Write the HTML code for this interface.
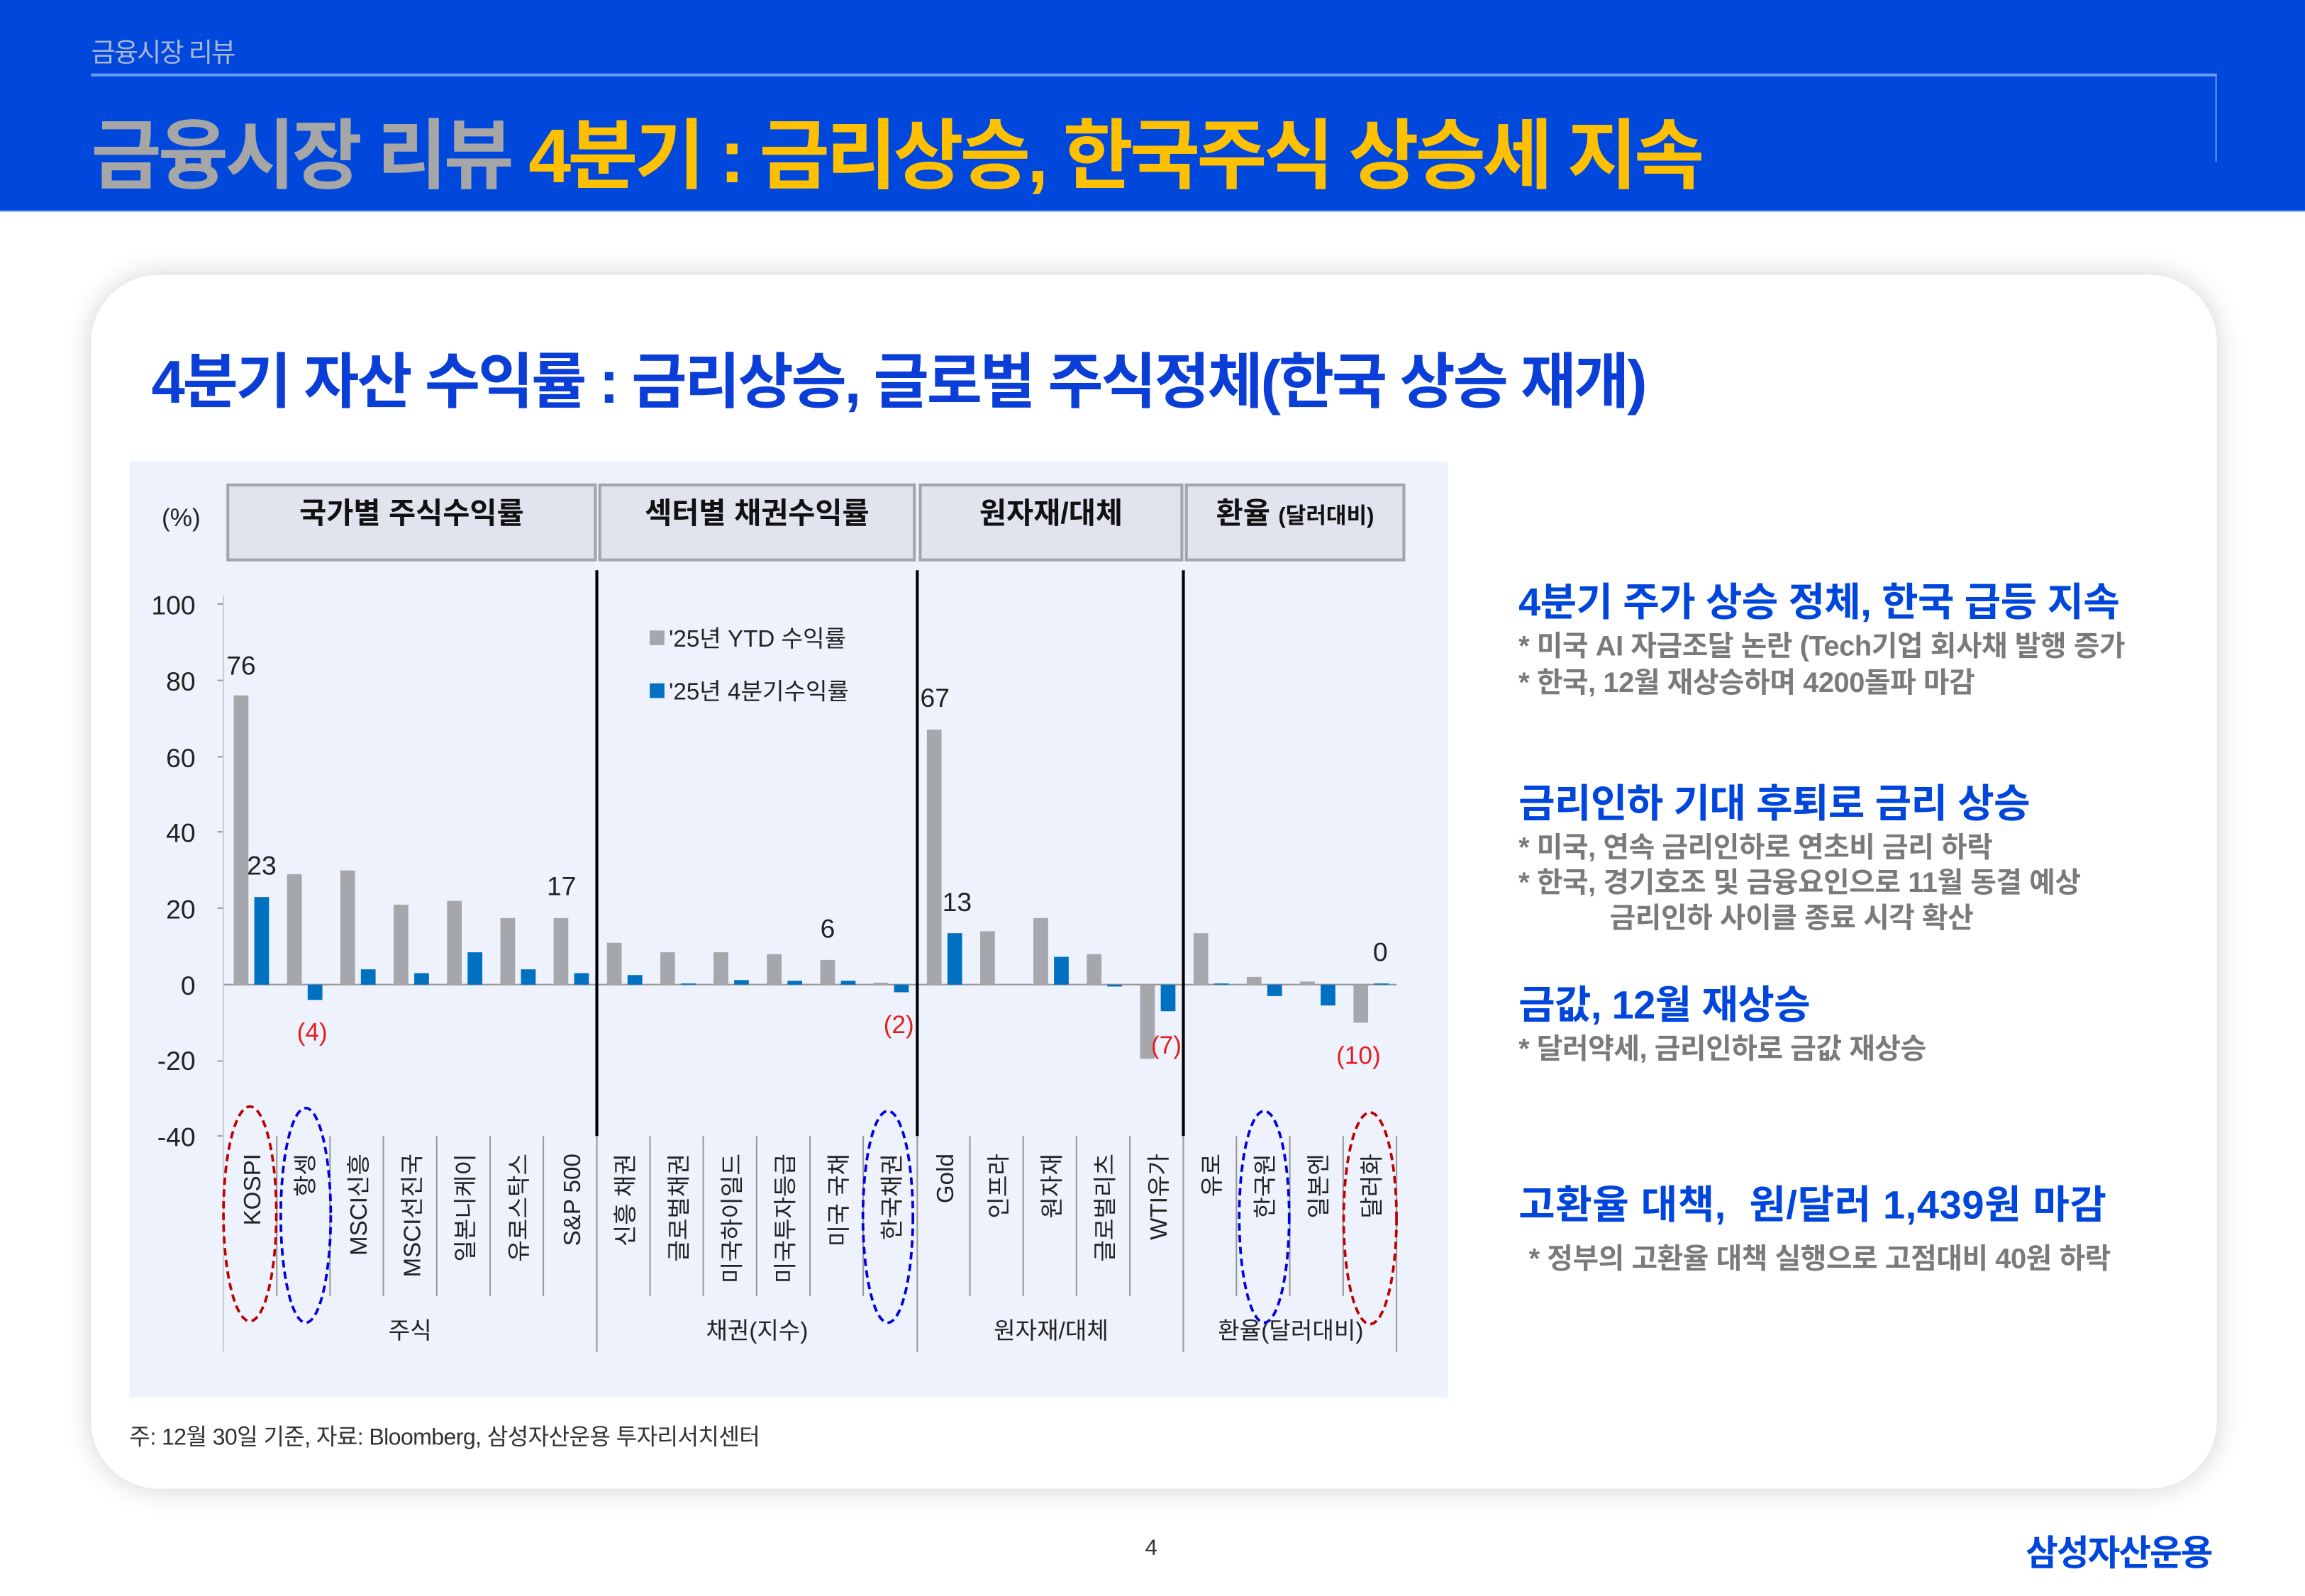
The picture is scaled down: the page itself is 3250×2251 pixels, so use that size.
<!DOCTYPE html>
<html><head><meta charset="utf-8">
<style>
html,body{margin:0;padding:0;background:#fff;}
body{width:3250px;height:2250px;overflow:hidden;}
#s{position:absolute;left:0;top:0;width:1568px;height:1086px;transform:scale(2.0727);transform-origin:0 0;font-family:"Liberation Sans","Noto Sans CJK KR",sans-serif;}
.a{position:absolute;white-space:nowrap;}
.h{color:#0046dc;font-weight:bold;font-size:27px;letter-spacing:-0.3px;}
.g{color:#7a7a7a;font-size:19.2px;font-weight:bold;letter-spacing:-0.2px;}
</style></head><body>
<div id="s">
<div class="a" style="left:0;top:0;width:1568px;height:143px;background:#0048dc;border-bottom:1px solid #5b8cf0;"></div>
<div class="a" style="left:62px;top:22px;color:#a8b4d8;font-size:18px;letter-spacing:-1px;">금융시장 리뷰</div>
<div class="a" style="left:62px;top:50px;width:1446px;height:2px;background:#6a98f5;"></div>
<div class="a" style="left:1507px;top:50px;width:1px;height:60px;background:#6a98f5;"></div>
<div class="a" style="left:62px;top:64px;font-size:52px;font-weight:bold;letter-spacing:-2.3px;"><span style="color:#a6a6a6">금융시장 리뷰</span> <span style="color:#ffc000">4분기 : 금리상승, 한국주식 상승세 지속</span></div>

<div class="a" style="left:62px;top:187px;width:1446px;height:826px;background:#fff;border-radius:46px;box-shadow:0 0 18px rgba(0,0,0,0.18);"></div>
<div class="a" style="left:103px;top:226px;font-size:41px;font-weight:bold;color:#0a3ed6;letter-spacing:-1.5px;">4분기 자산 수익률 : 금리상승, 글로벌 주식정체(한국 상승 재개)</div>

<svg class="a" style="left:0;top:0" width="1568" height="1086" font-family="Liberation Sans, Noto Sans CJK KR, sans-serif">
<rect x="88" y="314" width="897" height="637" fill="#eef2fc"/>
<g fill="#e1e4ef" stroke="#a2a5b0" stroke-width="2">
<rect x="155" y="330" width="250" height="51"/><rect x="408" y="330" width="214" height="51"/>
<rect x="626" y="330" width="178" height="51"/><rect x="807" y="330" width="148" height="51"/></g>
<g font-size="20" font-weight="bold" fill="#111" text-anchor="middle">
<text x="280" y="356">국가별 주식수익률</text><text x="515" y="356">섹터별 채권수익률</text>
<text x="715" y="356">원자재/대체</text><text x="881" y="356">환율 <tspan font-size="15">(달러대비)</tspan></text></g>
<text x="110" y="358" font-size="17" fill="#222">(%)</text>
<g font-size="18" fill="#222" text-anchor="end">
<text x="133" y="418">100</text><text x="133" y="470">80</text><text x="133" y="522">60</text><text x="133" y="573">40</text><text x="133" y="625">20</text><text x="133" y="677">0</text><text x="133" y="728">-20</text><text x="133" y="780">-40</text></g>
<g stroke="#999" stroke-width="1">
<line x1="148" y1="411" x2="152" y2="411"/><line x1="148" y1="463" x2="152" y2="463"/><line x1="148" y1="515" x2="152" y2="515"/><line x1="148" y1="566" x2="152" y2="566"/><line x1="148" y1="618" x2="152" y2="618"/><line x1="148" y1="722" x2="152" y2="722"/><line x1="148" y1="773" x2="152" y2="773"/>
<line x1="152" y1="670" x2="950" y2="670" stroke="#999"/>
<line x1="152" y1="405" x2="152" y2="920" stroke="#ccc"/>
<line x1="950" y1="773" x2="950" y2="920"/>
<line x1="188.3" y1="773" x2="188.3" y2="882"/><line x1="224.5" y1="773" x2="224.5" y2="882"/><line x1="260.8" y1="773" x2="260.8" y2="882"/><line x1="297.1" y1="773" x2="297.1" y2="882"/><line x1="333.4" y1="773" x2="333.4" y2="882"/><line x1="369.6" y1="773" x2="369.6" y2="882"/>
<line x1="442.2" y1="773" x2="442.2" y2="882"/><line x1="478.4" y1="773" x2="478.4" y2="882"/><line x1="514.7" y1="773" x2="514.7" y2="882"/><line x1="551" y1="773" x2="551" y2="882"/><line x1="587.2" y1="773" x2="587.2" y2="882"/>
<line x1="659.8" y1="773" x2="659.8" y2="882"/><line x1="696" y1="773" x2="696" y2="882"/><line x1="732.3" y1="773" x2="732.3" y2="882"/><line x1="768.6" y1="773" x2="768.6" y2="882"/>
<line x1="841.1" y1="773" x2="841.1" y2="882"/><line x1="877.4" y1="773" x2="877.4" y2="882"/><line x1="913.7" y1="773" x2="913.7" y2="882"/>
<line x1="406" y1="773" x2="406" y2="920"/><line x1="624" y1="773" x2="624" y2="920"/><line x1="805" y1="773" x2="805" y2="920"/>
</g>
<g stroke="#000" stroke-width="2"><line x1="406" y1="388" x2="406" y2="773"/><line x1="624" y1="388" x2="624" y2="773"/><line x1="805" y1="388" x2="805" y2="773"/></g>
<g fill="#a5a7ad">
<rect x="159" y="473.2" width="10" height="196.8"/><rect x="195.3" y="594.9" width="10" height="75.1"/><rect x="231.5" y="592.3" width="10" height="77.7"/><rect x="267.8" y="615.6" width="10" height="54.4"/><rect x="304.1" y="613" width="10" height="57"/><rect x="340.4" y="624.7" width="10" height="45.3"/><rect x="376.6" y="624.7" width="10" height="45.3"/>
<rect x="412.9" y="641.5" width="10" height="28.5"/><rect x="449.2" y="648" width="10" height="22"/><rect x="485.4" y="648" width="10" height="22"/><rect x="521.7" y="649.3" width="10" height="20.7"/><rect x="558" y="653.2" width="10" height="16.8"/><rect x="594.2" y="668.7" width="10" height="1.3"/>
<rect x="630.5" y="496.5" width="10" height="173.5"/><rect x="666.8" y="633.7" width="10" height="36.3"/><rect x="703" y="624.7" width="10" height="45.3"/><rect x="739.3" y="649.3" width="10" height="20.7"/><rect x="775.6" y="670" width="10" height="50.5"/>
<rect x="811.9" y="635" width="10" height="35"/><rect x="848.1" y="664.8" width="10" height="5.2"/><rect x="884.4" y="667.9" width="10" height="2.1"/><rect x="920.7" y="670" width="10" height="25.9"/>
</g>
<g fill="#0070c0">
<rect x="173" y="610.4" width="10" height="59.6"/><rect x="209.3" y="670" width="10" height="10.4"/><rect x="245.5" y="659.6" width="10" height="10.4"/><rect x="281.8" y="662.2" width="10" height="7.8"/><rect x="318.1" y="648" width="10" height="22"/><rect x="354.4" y="659.6" width="10" height="10.4"/><rect x="390.6" y="662.2" width="10" height="7.8"/>
<rect x="426.9" y="663.5" width="10" height="6.5"/><rect x="463.2" y="669.2" width="10" height="0.8"/><rect x="499.4" y="666.9" width="10" height="3.1"/><rect x="535.7" y="667.4" width="10" height="2.6"/><rect x="572" y="667.4" width="10" height="2.6"/><rect x="608.2" y="670" width="10" height="5.2"/>
<rect x="644.5" y="635" width="10" height="35"/><rect x="717" y="651.1" width="10" height="18.9"/><rect x="753.3" y="670" width="10" height="1.3"/><rect x="789.6" y="670" width="10" height="18.1"/>
<rect x="825.9" y="669.2" width="10" height="0.8"/><rect x="862.1" y="670" width="10" height="7.8"/><rect x="898.4" y="670" width="10" height="14.2"/><rect x="934.7" y="669.2" width="10" height="0.8"/>
</g>
<g font-size="18" fill="#222">
<text x="154" y="459">76</text><text x="168" y="595">23</text><text x="372" y="609">17</text><text x="558" y="638">6</text><text x="626" y="481">67</text><text x="641" y="620">13</text><text x="934" y="654">0</text></g>
<g font-size="17" fill="#e02020">
<text x="202" y="708">(4)</text><text x="601" y="703">(2)</text><text x="783" y="717">(7)</text><text x="909" y="724">(10)</text></g>
<rect x="442" y="429" width="10" height="10" fill="#a5a7ad"/><rect x="442" y="465" width="10" height="10" fill="#0070c0"/>
<g font-size="16" fill="#222"><text x="455" y="440">'25년 YTD 수익률</text><text x="455" y="476">'25년 4분기수익률</text></g>
<g font-size="16" fill="#222" text-anchor="end">
<text transform="translate(177,785) rotate(-90)">KOSPI</text>
<text transform="translate(213.3,785) rotate(-90)">항셍</text>
<text transform="translate(249.5,785) rotate(-90)">MSCI신흥</text>
<text transform="translate(285.8,785) rotate(-90)">MSCI선진국</text>
<text transform="translate(322.1,785) rotate(-90)">일본니케이</text>
<text transform="translate(358.4,785) rotate(-90)">유로스탁스</text>
<text transform="translate(394.6,785) rotate(-90)">S&amp;P 500</text>
<text transform="translate(430.9,785) rotate(-90)">신흥 채권</text>
<text transform="translate(467.2,785) rotate(-90)">글로벌채권</text>
<text transform="translate(503.4,785) rotate(-90)">미국하이일드</text>
<text transform="translate(539.7,785) rotate(-90)">미국투자등급</text>
<text transform="translate(576,785) rotate(-90)">미국 국채</text>
<text transform="translate(612.2,785) rotate(-90)">한국채권</text>
<text transform="translate(648.5,785) rotate(-90)">Gold</text>
<text transform="translate(684.8,785) rotate(-90)">인프라</text>
<text transform="translate(721,785) rotate(-90)">원자재</text>
<text transform="translate(757.3,785) rotate(-90)">글로벌리츠</text>
<text transform="translate(793.6,785) rotate(-90)">WTI유가</text>
<text transform="translate(829.9,785) rotate(-90)">유로</text>
<text transform="translate(866.1,785) rotate(-90)">한국원</text>
<text transform="translate(902.4,785) rotate(-90)">일본엔</text>
<text transform="translate(938.7,785) rotate(-90)">달러화</text>
</g>
<g font-size="16" fill="#222" text-anchor="middle">
<text x="279" y="911">주식</text><text x="515" y="911">채권(지수)</text><text x="715" y="911">원자재/대체</text><text x="878" y="911">환율(달러대비)</text></g>
<g fill="none" stroke-width="1.8" stroke-dasharray="5,3">
<ellipse cx="170" cy="826" rx="18" ry="73" stroke="#c00000"/>
<ellipse cx="208" cy="827" rx="17" ry="73" stroke="#0000e0"/>
<ellipse cx="604" cy="828" rx="17" ry="72" stroke="#0000e0"/>
<ellipse cx="860" cy="828" rx="17" ry="72" stroke="#0000e0"/>
<ellipse cx="932" cy="829" rx="18" ry="72" stroke="#c00000"/>
</g>
</svg>

<div class="a" style="left:88px;top:966px;font-size:15.5px;color:#333;letter-spacing:-0.3px;">주: 12월 30일 기준, 자료: Bloomberg, 삼성자산운용 투자리서치센터</div>

<div class="a h" style="left:1033px;top:388px;">4분기 주가 상승 정체, 한국 급등 지속</div>
<div class="a g" style="left:1033px;top:424px;">* 미국 AI 자금조달 논란 (Tech기업 회사채 발행 증가</div>
<div class="a g" style="left:1033px;top:449px;">* 한국, 12월 재상승하며 4200돌파 마감</div>
<div class="a h" style="left:1033px;top:525px;">금리인하 기대 후퇴로 금리 상승</div>
<div class="a g" style="left:1033px;top:561px;">* 미국, 연속 금리인하로 연초비 금리 하락</div>
<div class="a g" style="left:1033px;top:585px;">* 한국, 경기호조 및 금융요인으로 11월 동결 예상</div>
<div class="a g" style="left:1095px;top:609px;">금리인하 사이클 종료 시각 확산</div>
<div class="a h" style="left:1033px;top:662px;">금값, 12월 재상승</div>
<div class="a g" style="left:1033px;top:698px;">* 달러약세, 금리인하로 금값 재상승</div>
<div class="a h" style="left:1033px;top:798px;letter-spacing:0.3px;">고환율 대책,&nbsp; 원/달러 1,439원 마감</div>
<div class="a g" style="left:1040px;top:841px;">* 정부의 고환율 대책 실행으로 고점대비 40원 하락</div>

<div class="a" style="left:779px;top:1045px;font-size:15px;color:#333;">4</div>
<div class="a" style="left:1378px;top:1037px;font-size:24px;font-weight:bold;color:#0046dc;letter-spacing:-1px;">삼성자산운용</div>
</div>
</body></html>
